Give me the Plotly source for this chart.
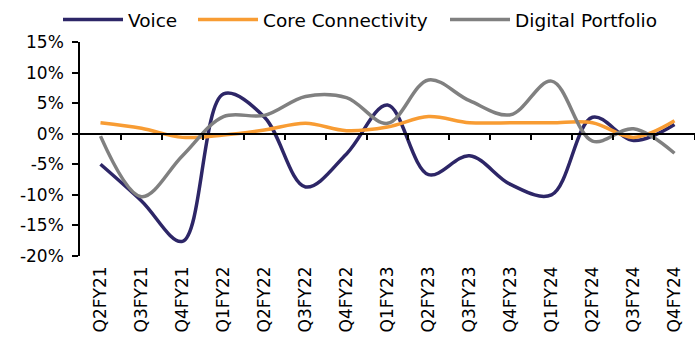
import plotly.graph_objects as go

quarters = ["Q2FY21", "Q3FY21", "Q4FY21", "Q1FY22", "Q2FY22", "Q3FY22", "Q4FY22",
            "Q1FY23", "Q2FY23", "Q3FY23", "Q4FY23", "Q1FY24", "Q2FY24", "Q3FY24", "Q4FY24"]
voice = [-5.0, -11.0, -17.6, 6.5, 2.7, -8.7, -3.3, 4.7, -6.7, -3.6, -8.3, -10.0, 2.7, -1.1, 1.5]
core_connectivity = [1.8, 0.9, -0.6, -0.2, 0.6, 1.7, 0.5, 1.1, 2.8, 1.8, 1.8, 1.8, 1.8, -0.6, 2.1]
digital_portfolio = [-0.4, -10.3, -3.6, 2.8, 3.0, 6.1, 5.9, 1.7, 8.8, 5.4, 3.1, 8.6, -1.2, 0.8, -3.2]
y_ticks = [-20, -15, -10, -5, 0, 5, 10, 15]

series = [("Voice", voice, "#2d2667", "legend", 58),
          ("Core Connectivity", core_connectivity, "#f89c33", "legend2", 193),
          ("Digital Portfolio", digital_portfolio, "#808080", "legend3", 445)]

idx = list(range(len(quarters)))
fig = go.Figure()
for name, vals, color, leg, _ in series:
    fig.add_trace(go.Scatter(
        x=idx, y=vals, name=name, mode="lines", legend=leg,
        line=dict(color=color, width=3.5, shape="spline", smoothing=1.0),
    ))

# hidden trace on the overlay axis that carries the zero line with its ticks
fig.add_trace(go.Scatter(x=idx, y=[0] * len(idx), xaxis="x2", mode="lines",
                         line=dict(width=0), showlegend=False, hoverinfo="skip"))

ymin, ymax = y_ticks[0], y_ticks[-1]
font = dict(family="DejaVu Sans, Verdana, sans-serif", size=17, color="#000000")
leg_font = dict(family="DejaVu Sans, Verdana, sans-serif", size=18.5, color="#000000")

W, H = 695, 340
ml, mr, mt, mb = 80, 0, 42, 84
pw, ph = W - ml - mr, H - mt - mb

legends = {}
for _, _, _, leg, px in series:
    legends[leg] = dict(orientation="h", x=(px - ml) / pw, xanchor="left",
                        y=1 + (mt - 20) / ph, yanchor="middle",
                        font=leg_font, itemwidth=60, bgcolor="rgba(0,0,0,0)",
                        itemclick=False)

fig.update_layout(
    width=W, height=H,
    margin=dict(l=ml, r=mr, t=mt, b=mb, autoexpand=False),
    paper_bgcolor="white", plot_bgcolor="white",
    font=font,
    showlegend=True,
    **legends,
    xaxis=dict(range=[-0.5, len(quarters) - 0.5], tickmode="array", tickvals=idx,
               ticktext=quarters, tickangle=-90, showline=False, ticks="",
               showgrid=False, zeroline=False, fixedrange=True, ticklabelstandoff=6),
    xaxis2=dict(overlaying="x", matches="x", anchor="free",
                position=(0 - ymin) / (ymax - ymin),
                showline=True, linecolor="#000000", linewidth=1.5,
                tickmode="array", tickvals=[i + 0.5 for i in idx],
                ticks="outside", ticklen=6, tickwidth=1.5, tickcolor="#000000",
                showticklabels=False, showgrid=False, zeroline=False),
    yaxis=dict(range=[ymin, ymax], tickmode="array", tickvals=y_ticks,
               ticktext=[f"{v}%" for v in y_ticks],
               showline=True, linecolor="#000000", linewidth=1.5,
               ticks="outside", ticklen=6, tickwidth=1.5, tickcolor="#000000",
               showgrid=False, zeroline=False, ticklabelstandoff=5),
)

fig.write_html("out.html")
